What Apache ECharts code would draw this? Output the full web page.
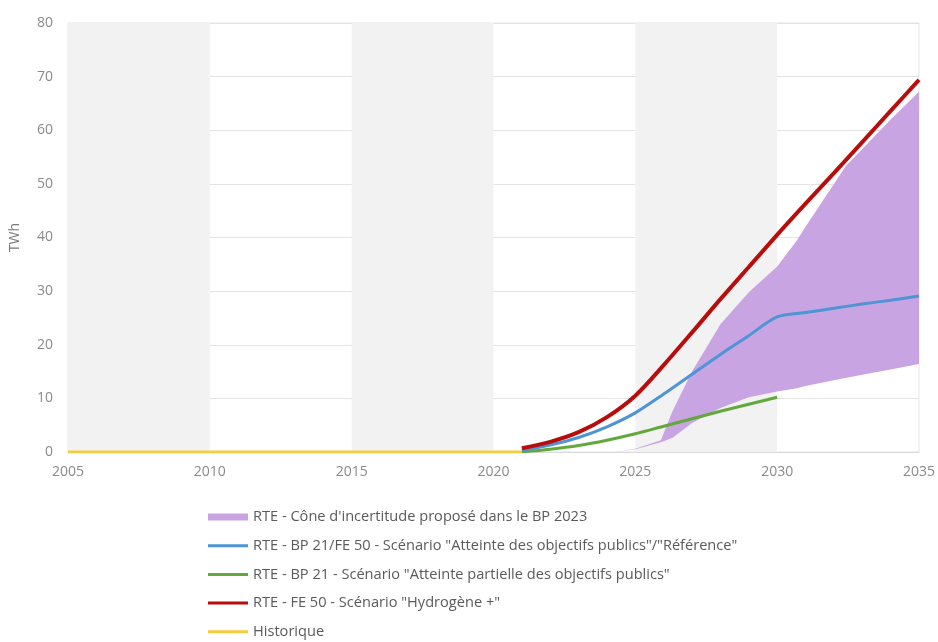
<!DOCTYPE html>
<html>
<head>
<meta charset="utf-8">
<script src="https://cdn.jsdelivr.net/npm/echarts@6/dist/echarts.min.js"></script>
<style>
  html, body { margin: 0; padding: 0; background: #fff; }
  #chart { width: 938px; height: 642px; }
</style>
</head>
<body>
<div id="chart"></div>
<script>
// valeurs (TWh)
var histYears = [2005, 2021];
var histValues = [0, 0];

var scenYears = [2021, 2022, 2023, 2024, 2025, 2026, 2027, 2028, 2029, 2030, 2031, 2032, 2033, 2034, 2035];
var redValues = [0.7, 1.9, 3.7, 6.5, 10.5, 16.2, 22.3, 28.5, 34.5, 40.5, 46.3, 52, 57.8, 63.6, 69.4];
var blueValues = [0.3, 1.3, 2.7, 4.7, 7.3, 10.8, 14.5, 18.2, 21.7, 25.2, 26, 26.8, 27.6, 28.3, 29.1];
var greenValues = [0, 0.5, 1.2, 2.2, 3.4, 4.8, 6.2, 7.6, 8.9, 10.2];

var coneYears = [2024.3, 2025, 2025.9, 2026.3, 2027, 2028, 2029, 2030, 2030.7, 2031, 2032, 2032.4, 2033, 2034, 2035];
var coneUpper = [0, 0.6, 2.2, 7.5, 15, 23.8, 29.8, 34.6, 39.5, 42, 50, 53.2, 56.5, 62, 67.2];
var coneLower = [0, 0.5, 1.8, 2.6, 5.4, 8.2, 10.2, 11.3, 11.9, 12.3, 13.4, 13.8, 14.4, 15.4, 16.4];

var bandStarts = [2005, 2015, 2025];
var bandEnds = [2010, 2020, 2030];

var names = {
    cone: "RTE - Cône d'incertitude proposé dans le BP 2023",
    blue: 'RTE - BP 21/FE 50 - Scénario "Atteinte des objectifs publics"/"Référence"',
    green: 'RTE - BP 21 - Scénario "Atteinte partielle des objectifs publics"',
    red: 'RTE - FE 50 - Scénario "Hydrogène +"',
    hist: 'Historique'
};
var legendOrder = [names.cone, names.blue, names.green, names.red, names.hist];

function pairs(xs, ys) {
    return ys.map(function (v, i) { return [xs[i], v]; });
}

var font = "'Open Sans', 'DejaVu Sans', sans-serif";
var coneColor = '#c8a5e2';

// une légende par entrée pour garder l'espacement vertical
var legends = legendOrder.map(function (n, i) {
    return {
        data: [{ name: n, icon: 'rect' }],
        left: 203,
        top: 503 + i * 28.7,
        itemWidth: 40,
        itemHeight: i === 0 ? 7 : 3,
        itemGap: 0,
        textStyle: { color: '#5a5a5a', fontSize: 14.6, fontFamily: font, lineHeight: 18 }
    };
});

var myChart = echarts.init(document.getElementById('chart'));
myChart.setOption({
    animation: false,
    grid: {
        left: 68, right: 16, top: 23, bottom: 190,
        show: true, borderColor: '#e6e6e6', borderWidth: 1
    },
    legend: legends,
    xAxis: {
        type: 'value',
        min: 2005, max: 2035, interval: 5,
        axisLine: { lineStyle: { color: '#d9d9d9' } },
        axisTick: { show: false },
        splitLine: { show: false },
        axisLabel: {
            color: '#8a8a8a', fontSize: 14, fontFamily: font, margin: 13,
            formatter: function (v) { return String(v); }
        }
    },
    yAxis: {
        type: 'value',
        min: 0, max: 80, interval: 10,
        name: 'TWh',
        nameLocation: 'middle',
        nameGap: 46,
        nameTextStyle: { color: '#7a7a7a', fontSize: 14, fontFamily: font },
        axisLine: { show: false },
        axisTick: { show: false },
        splitLine: { lineStyle: { color: '#e3e3e3' } },
        axisLabel: { color: '#8a8a8a', fontSize: 14, fontFamily: font, margin: 15 }
    },
    series: [
        {
            name: names.hist,
            type: 'line',
            data: pairs(histYears, histValues),
            symbol: 'none',
            color: '#f5cd3c',
            lineStyle: { width: 3 },
            z: 1,
            markArea: {
                silent: true,
                itemStyle: { color: '#f2f2f2' },
                data: bandStarts.map(function (s, i) {
                    return [{ xAxis: s }, { xAxis: bandEnds[i] }];
                })
            }
        },
        {
            name: names.cone,
            type: 'custom',
            data: [[coneYears[0], coneLower[0]]],
            itemStyle: { color: coneColor },
            z: 2,
            renderItem: function (params, api) {
                var pts = [];
                coneYears.forEach(function (y, i) { pts.push(api.coord([y, coneUpper[i]])); });
                for (var i = coneYears.length - 1; i >= 0; i--) {
                    pts.push(api.coord([coneYears[i], coneLower[i]]));
                }
                return {
                    type: 'polygon',
                    shape: { points: pts },
                    style: { fill: coneColor }
                };
            }
        },
        {
            name: names.green,
            type: 'line',
            data: pairs(scenYears, greenValues),
            symbol: 'none',
            smooth: 0.3,
            color: '#62a83c',
            lineStyle: { width: 3 },
            z: 4
        },
        {
            name: names.blue,
            type: 'line',
            data: pairs(scenYears, blueValues),
            symbol: 'none',
            smooth: 0.3,
            color: '#4f94d4',
            lineStyle: { width: 3 },
            z: 5
        },
        {
            name: names.red,
            type: 'line',
            data: pairs(scenYears, redValues),
            symbol: 'none',
            smooth: 0.3,
            color: '#b80d0d',
            lineStyle: { width: 4 },
            z: 6
        }
    ]
});
</script>
</body>
</html>
